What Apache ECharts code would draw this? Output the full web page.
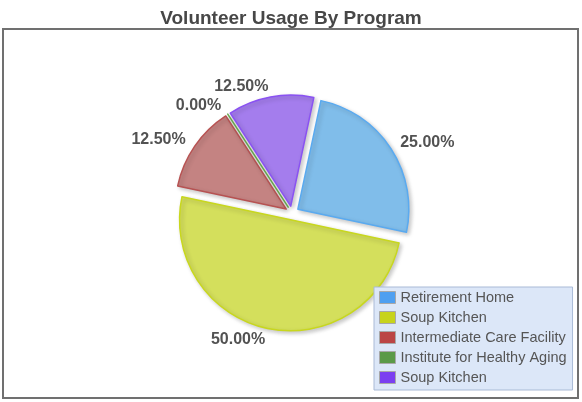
<!DOCTYPE html>
<html>
<head>
<meta charset="utf-8">
<script src="https://cdn.jsdelivr.net/npm/echarts@6/dist/echarts.min.js"></script>
<style>
  html, body { margin: 0; padding: 0; background: #fff; }
  #chart { width: 582px; height: 402px; }
</style>
</head>
<body>
<div id="chart"></div>
<script>
const programs = ['Retirement Home', 'Soup Kitchen', 'Intermediate Care Facility', 'Institute for Healthy Aging', 'Soup Kitchen'];
const volunteers = [2, 4, 1, 0, 1];
const fills = ['#80bdea', '#d4df5c', '#c48382', '#8fc27a', '#a47ded'];
const borders = ['#5aaaf0', '#c8d71e', '#b75252', '#6aa850', '#8a52f2'];
const legendColors = ['#4e9ff0', '#c7d31c', '#bb4545', '#5b9a48', '#7b3ff0'];

const chart = echarts.init(document.getElementById('chart'));

// names have to be unique for the legend, so key them by index
const keys = programs.map((p, i) => 'p' + i);

chart.setOption({
  animation: false,
  title: {
    text: 'Volunteer Usage By Program',
    left: 'center',
    top: 4,
    textStyle: {fontFamily: 'Liberation Sans', fontSize: 19, fontWeight: 'bold', color: '#474747'}
  },
  graphic: [{
    type: 'rect',
    shape: {x: 3, y: 29, width: 575, height: 369},
    style: {fill: 'none', stroke: '#707070', lineWidth: 2},
    z: -1
  }],
  legend: {
    orient: 'vertical',
    left: 374,
    top: 287,
    padding: [3, 6, 5, 5],
    itemWidth: 16,
    itemHeight: 12,
    itemGap: 5,
    itemTextGap: 10,
    itemStyle: {borderColor: '#a8a8a8', borderWidth: 1},
    backgroundColor: '#dce7f8',
    borderColor: '#a9bad6',
    borderWidth: 1,
    selectedMode: false,
    textStyle: {fontFamily: 'Liberation Sans', fontSize: 14.5, lineHeight: 14, color: '#555'},
    formatter: name => programs[keys.indexOf(name)],
    data: keys.map((k, i) => ({name: k, icon: 'rect', itemStyle: {color: legendColors[i]}}))
  },
  series: [{
    type: 'pie',
    center: [292, 213],
    radius: 111,
    startAngle: 78,
    selectedMode: 'multiple',
    selectedOffset: 7,
    label: {
      position: 'outside',
      distanceToLabelLine: 0,
      fontFamily: 'Liberation Sans',
      fontSize: 16,
      fontWeight: 'bold',
      color: '#525252',
      formatter: p => p.percent.toFixed(2) + '%'
    },
    labelLine: {show: false, length: 11, length2: 0},
    emphasis: {disabled: true},
    data: keys.map((k, i) => ({
      name: k,
      value: volunteers[i],
      selected: true,
      itemStyle: {
        color: fills[i],
        borderColor: borders[i],
        borderWidth: 1.5,
        shadowBlur: 4,
        shadowOffsetX: 2,
        shadowOffsetY: 2,
        shadowColor: 'rgba(0,0,0,0.22)'
      },
      select: {itemStyle: {color: fills[i], borderColor: borders[i], borderWidth: 1.5}}
    }))
  }]
});
</script>
</body>
</html>
